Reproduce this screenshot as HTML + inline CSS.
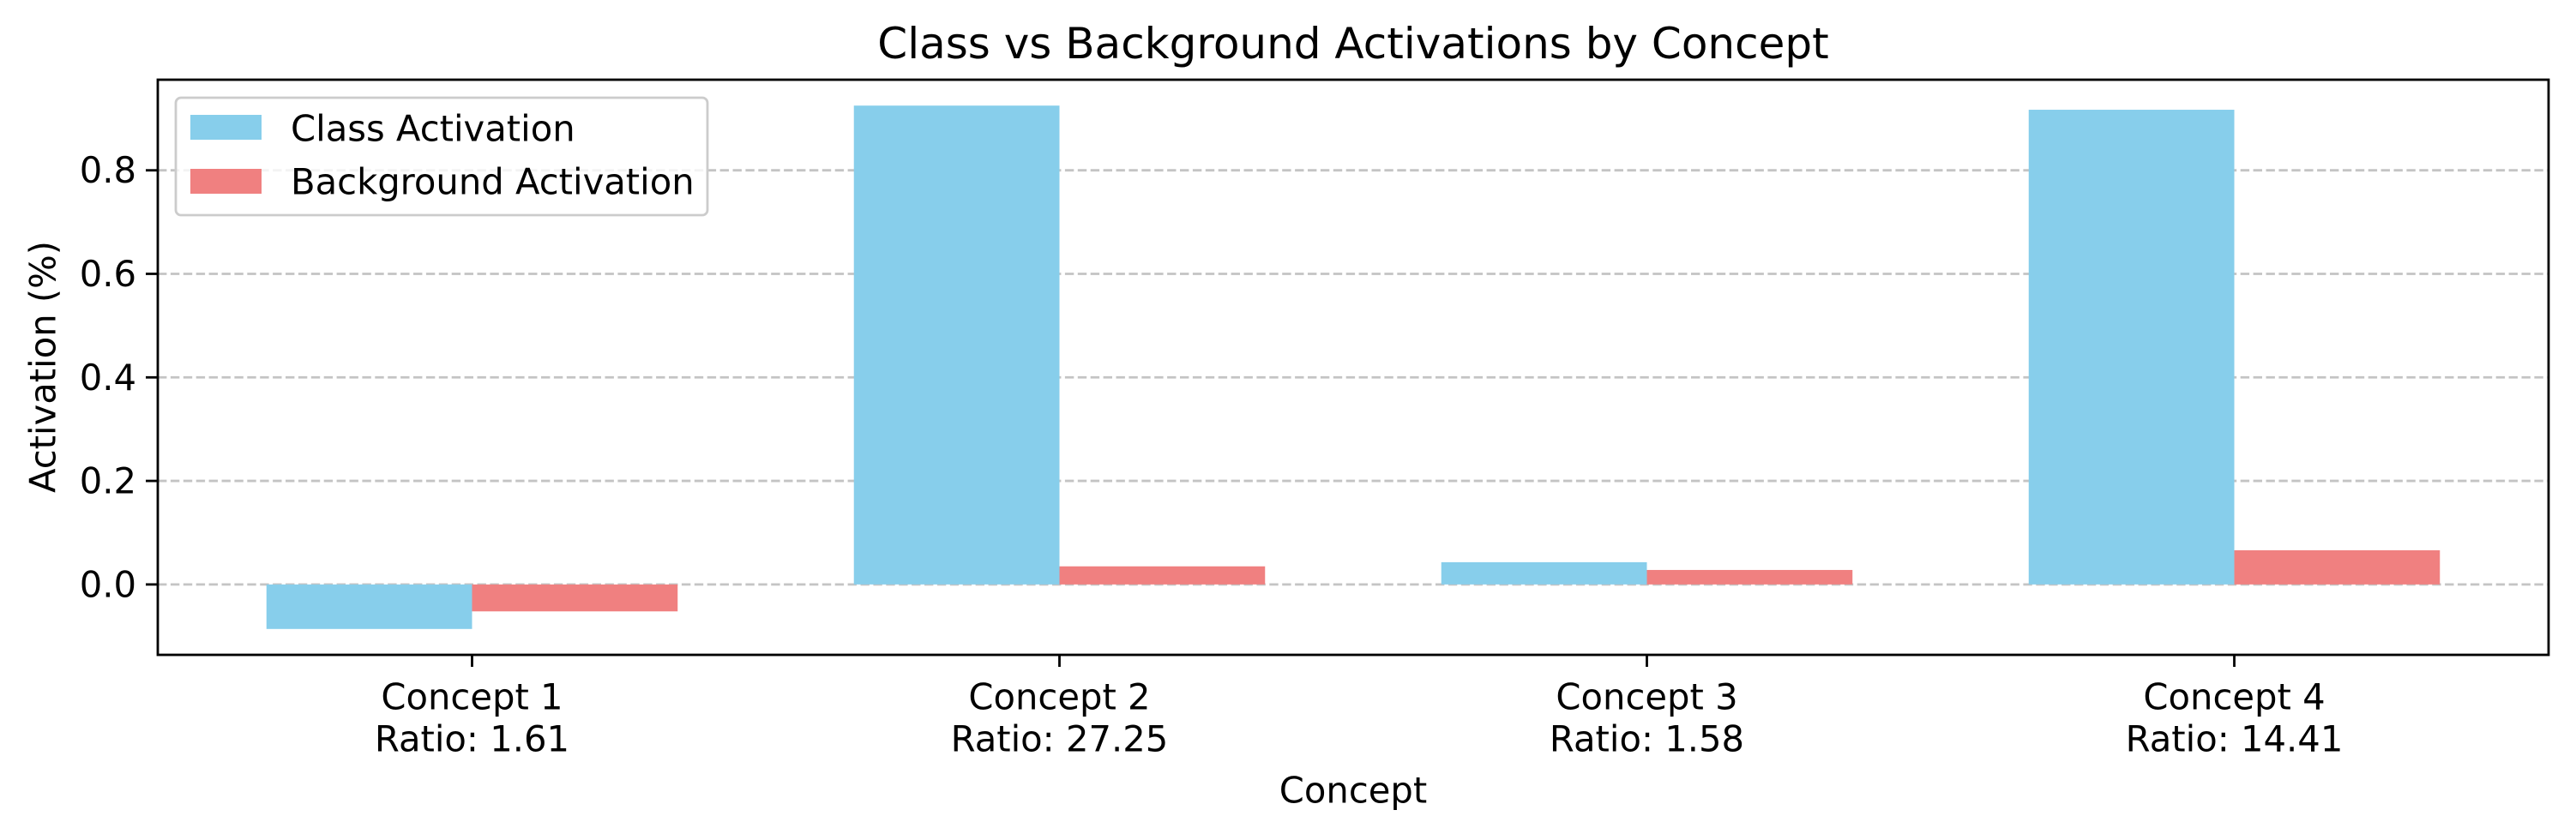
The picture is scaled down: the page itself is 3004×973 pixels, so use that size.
<!DOCTYPE html>
<html><head><meta charset="utf-8"><style>
html,body{margin:0;padding:0;background:#fff;}
svg{display:block;font-family:"DejaVu Sans","Liberation Sans",sans-serif;}
</style></head><body>
<svg id="chart" width="3004" height="973" viewBox="0 0 3004 973" xmlns="http://www.w3.org/2000/svg">
<rect width="3004" height="973" fill="#fff"/>
<text x="1578" y="51" font-size="50" text-anchor="middle" dominant-baseline="central">Class vs Background Activations by Concept</text>
<g id="grid"></g>
<g id="bars"></g>
<rect x="184" y="93" width="2788" height="671" fill="none" stroke="#000" stroke-width="2.8"/>
<g id="axes"></g>
<text x="1578" y="922" font-size="41.7" text-anchor="middle" dominant-baseline="central">Concept</text>
<text x="50" y="428" font-size="41.7" text-anchor="middle" dominant-baseline="central" transform="rotate(-90 50 428)">Activation (%)</text>
<g>
<rect x="205" y="114" width="620" height="137" rx="6" fill="#fff" fill-opacity="0.8" stroke="#ccc" stroke-width="2.8"/>
<rect x="222" y="134" width="83" height="29" fill="#87CEEB"/>
<text x="339" y="150" font-size="41.7" dominant-baseline="central">Class Activation</text>
<rect x="222" y="197" width="83" height="29" fill="#F08080"/>
<text x="339" y="212" font-size="41.7" dominant-baseline="central">Background Activation</text>
</g>
</svg>
<script>
const categories = ["Concept 1","Concept 2","Concept 3","Concept 4"];
const ratioLabels = ["Ratio: 1.61","Ratio: 27.25","Ratio: 1.58","Ratio: 14.41"];
const classValues = [-0.086, 0.925, 0.043, 0.917];
const backgroundValues = [-0.052, 0.035, 0.028, 0.066];
const yTicks = [0.0, 0.2, 0.4, 0.6, 0.8];
const yTickLabels = ["0.0","0.2","0.4","0.6","0.8"];

const NS = "http://www.w3.org/2000/svg";
const L = 184, R = 2972, T = 93, B = 764;
const xMin = -0.535, xMax = 3.535, yMin = -0.136, yMax = 0.975;
const barW = 0.35;
function xs(v){ return L + (v - xMin) / (xMax - xMin) * (R - L); }
function ys(v){ return B - (v - yMin) / (yMax - yMin) * (B - T); }
function mk(tag, attrs, parent){
  const e = document.createElementNS(NS, tag);
  for (const k in attrs) e.setAttribute(k, attrs[k]);
  parent.appendChild(e);
  return e;
}
const grid = document.getElementById("grid");
const bars = document.getElementById("bars");
const axes = document.getElementById("axes");

yTicks.forEach((t, i) => {
  const g = mk("line", {x1: L, x2: R, y1: ys(t), y2: ys(t), stroke: "#c4c4c4", "stroke-width": 2.8, "stroke-dasharray": "10.4,4.5"}, grid);
  
  
  const tk = mk("line", {x1: L - 14, x2: L, y1: ys(t), y2: ys(t), stroke: "#000", "stroke-width": 2.8}, axes);
  
  
  const tx = mk("text", {x: L - 25, y: ys(t), "font-size": 41.7, "text-anchor": "end", "dominant-baseline": "central"}, axes);
  tx.textContent = yTickLabels[i];
  
  
});

categories.forEach((c, i) => {
  const cv = classValues[i], bv = backgroundValues[i];
  const b1 = mk("rect", {x: xs(i - barW), width: xs(i) - xs(i - barW), y: Math.min(ys(cv), ys(0)), height: Math.abs(ys(cv) - ys(0)), fill: "#87CEEB"}, bars);
  
  
  const b2 = mk("rect", {x: xs(i), width: xs(i + barW) - xs(i), y: Math.min(ys(bv), ys(0)), height: Math.abs(ys(bv) - ys(0)), fill: "#F08080"}, bars);
  
  
  const tk = mk("line", {x1: xs(i), x2: xs(i), y1: B, y2: B + 14, stroke: "#000", "stroke-width": 2.8}, axes);
  
  
  const t1 = mk("text", {x: xs(i), y: 813, "font-size": 41.7, "text-anchor": "middle", "dominant-baseline": "central"}, axes);
  t1.textContent = c;
  
  
  const t2 = mk("text", {x: xs(i), y: 862, "font-size": 41.7, "text-anchor": "middle", "dominant-baseline": "central"}, axes);
  t2.textContent = ratioLabels[i];
  
  
});
</script>
</body></html>
